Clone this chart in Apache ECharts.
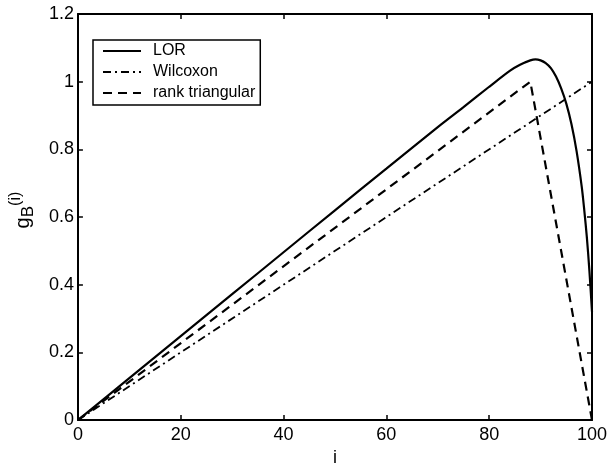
<!DOCTYPE html>
<html>
<head>
<meta charset="utf-8">
<script src="https://cdn.jsdelivr.net/npm/echarts@6/dist/echarts.min.js"></script>
<style>html,body{margin:0;padding:0;background:#fff}#c{width:612px;height:472px}</style>
</head>
<body>
<div id="c"></div>
<script>
// Data
const xTicks = [0, 20, 40, 60, 80, 100];
const yTicks = [0, 0.2, 0.4, 0.6, 0.8, 1, 1.2];
const lorI = [0, 10, 20, 30, 40, 50, 60, 70, 75, 80, 84, 86, 88, 89, 90, 91, 92, 93, 94, 95, 96, 97, 98, 98.5, 99, 99.5, 100];
const lorG = [0, 0.124, 0.248, 0.372, 0.496, 0.62, 0.743, 0.866, 0.925, 0.985, 1.032, 1.05, 1.063, 1.066, 1.063, 1.055, 1.04, 1.015, 0.98, 0.935, 0.875, 0.795, 0.69, 0.62, 0.54, 0.44, 0.32];
const wilI = [0, 100];
const wilG = [0, 1.0];
const triI = [0, 88, 100];
const triG = [0, 1.0, 0];

const pairs = (a, b) => a.map((v, k) => [v, b[k]]);
const font = 'Liberation Sans, Arial, Helvetica, sans-serif';

const chart = echarts.init(document.getElementById('c'), null, {renderer: 'canvas'});
const tickCommon = {show: true, inside: true, length: 5, lineStyle: {color: '#000', width: 1.5}};
const lineCommon = {show: true, onZero: false, lineStyle: {color: '#000', width: 2}};

chart.setOption({
  animation: false,
  backgroundColor: '#fff',
  grid: {left: 64.5, right: 20, top: 14, bottom: 41, containLabel: false},
  xAxis: [{
    type: 'value', min: 0, max: 100, interval: 20,
    axisLine: lineCommon, axisTick: tickCommon, splitLine: {show: false},
    axisLabel: {color: '#000', fontSize: 18, fontFamily: font, margin: 6,
      formatter: v => xTicks.includes(v) ? String(v) : ''},
    name: 'i', nameLocation: 'middle', nameGap: 26,
    nameTextStyle: {color: '#000', fontSize: 18, fontFamily: font}
  }, {
    type: 'value', min: 0, max: 100, interval: 20, position: 'top',
    axisLine: lineCommon, axisTick: tickCommon, splitLine: {show: false},
    axisLabel: {show: false}
  }],
  yAxis: [{
    type: 'value', min: 0, max: 1.2, interval: 0.2,
    axisLine: lineCommon, axisTick: tickCommon, splitLine: {show: false},
    axisLabel: {color: '#000', fontSize: 18, fontFamily: font, margin: 4,
      formatter: v => String(yTicks.find(t => Math.abs(t - v) < 1e-6))},
    name: '{g|g}{b|B}{s|(i)}', nameLocation: 'middle', nameGap: 28, nameRotate: 90,
    nameTextStyle: {
      color: '#000', fontFamily: font, padding: [0, 0, 0, 14],
      rich: {
        g: {fontSize: 20, fontFamily: font, color: '#000', lineHeight: 30, verticalAlign: 'middle'},
        b: {fontSize: 17, fontFamily: font, color: '#000', lineHeight: 30, verticalAlign: 'bottom', padding: [0, 0, 1, 0]},
        s: {fontSize: 16, fontFamily: font, color: '#000', lineHeight: 30, verticalAlign: 'top'}
      }
    }
  }, {
    type: 'value', min: 0, max: 1.2, interval: 0.2, position: 'right',
    axisLine: lineCommon, axisTick: tickCommon, splitLine: {show: false},
    axisLabel: {show: false}
  }],
  legend: {
    orient: 'vertical', left: 93, top: 40,
    backgroundColor: '#fff', borderColor: '#000', borderWidth: 1.5,
    padding: [3, 5, 4, 9], itemGap: 5, itemWidth: 38, itemHeight: 15,
    itemStyle: {color: 'transparent', borderWidth: 0, opacity: 0},
    textStyle: {color: '#000', fontSize: 16, fontFamily: font, padding: [0, 0, 0, 7]},
    data: ['LOR', 'Wilcoxon', 'rank triangular']
  },
  series: [{
    name: 'LOR', type: 'line', data: pairs(lorI, lorG), symbol: 'none', smooth: 0.3,
    lineStyle: {color: '#000', width: 2.2, type: 'solid'}, itemStyle: {color: '#000'}, z: 3
  }, {
    name: 'Wilcoxon', type: 'line', data: pairs(wilI, wilG), symbol: 'none',
    lineStyle: {color: '#000', width: 1.8, type: [8, 4, 2, 4]}, itemStyle: {color: '#000'}
  }, {
    name: 'rank triangular', type: 'line', data: pairs(triI, triG), symbol: 'none',
    lineStyle: {color: '#000', width: 2.2, type: [9, 6]}, itemStyle: {color: '#000'}
  }]
});
</script>
</body>
</html>
